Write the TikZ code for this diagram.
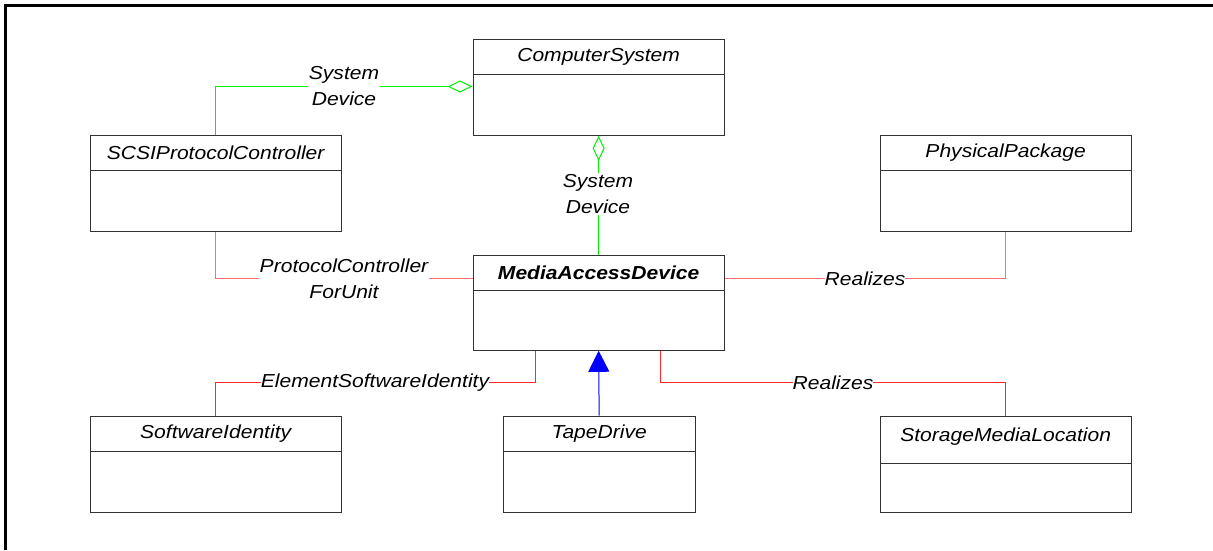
\documentclass[tikz,border=0pt]{standalone}
\usepackage{fontspec}
\setmainfont{Liberation Sans}[FakeStretch=1.12]
\usetikzlibrary{arrows.meta,calc}
\definecolor{umlgreen}{RGB}{0,240,0}
\definecolor{umlred}{RGB}{255,40,40}
\definecolor{umlpink}{RGB}{255,110,110}
\definecolor{umlblue}{RGB}{0,0,255}
\definecolor{boxline}{RGB}{50,50,50}
\begin{document}
\begin{tikzpicture}[x=1pt,y=-1pt,
  classbox/.style={draw=boxline,line width=1.3pt,inner sep=0pt,anchor=north west,fill=white},
  sepline/.style={draw=boxline,line width=1.3pt},
  title/.style={inner sep=0pt,font=\fontsize{18.8}{22}\selectfont\itshape},
  btitle/.style={inner sep=0pt,font=\fontsize{18.8}{22}\selectfont\bfseries\itshape},
  lab/.style={fill=white,inner xsep=1pt,inner ysep=1pt,align=center,font=\fontsize{18.8}{26}\selectfont\itshape},
  gassoc/.style={draw=umlgreen,line width=1pt},
  rassoc/.style={draw=umlred,line width=1pt},
  passoc/.style={draw=umlpink,line width=1pt},
  gen/.style={draw=umlblue,line width=1pt},
  agg/.style={-{Diamond[length=25pt,width=12pt,fill=white]}}
]
\useasboundingbox (0,0) rectangle (1213,550);
\draw[line width=2.4pt] (5.5,550) -- (5.5,5.5) -- (1213,5.5);

% classes
\node[classbox,minimum width=251pt,minimum height=96pt] (cs) at (472.5,38.5) {};
\node[classbox,minimum width=251pt,minimum height=96pt] (scsi) at (89.5,134.5) {};
\node[classbox,minimum width=251pt,minimum height=96pt] (pp) at (879.5,134.5) {};
\node[classbox,minimum width=251pt,minimum height=95pt] (mad) at (472.5,254.5) {};
\node[classbox,minimum width=251pt,minimum height=96pt] (sw) at (89.5,415.5) {};
\node[classbox,minimum width=192pt,minimum height=96pt] (tape) at (502.5,415.5) {};
\node[classbox,minimum width=251pt,minimum height=96pt] (sml) at (879.5,415.5) {};

\draw[sepline] (cs.west |- 0,74.5) -- (cs.east |- 0,74.5);
\draw[sepline] (scsi.west |- 0,170.5) -- (scsi.east |- 0,170.5);
\draw[sepline] (pp.west |- 0,170.5) -- (pp.east |- 0,170.5);
\draw[sepline] (mad.west |- 0,290.5) -- (mad.east |- 0,290.5);
\draw[sepline] (sw.west |- 0,451.5) -- (sw.east |- 0,451.5);
\draw[sepline] (tape.west |- 0,451.5) -- (tape.east |- 0,451.5);
\draw[sepline] (sml.west |- 0,463.5) -- (sml.east |- 0,463.5);

\node[title] (cs-t) at (cs.north |- 0,57) {ComputerSystem};
\node[title] (scsi-t) at (scsi.north |- 0,153) {SCSIProtocolController};
\node[title] (pp-t) at (pp.north |- 0,153) {PhysicalPackage};
\node[btitle] (mad-t) at (mad.north |- 0,273) {MediaAccessDevice};
\node[title] (sw-t) at (sw.north |- 0,434) {SoftwareIdentity};
\node[title] (tape-t) at (tape.north |- 0,434) {TapeDrive};
\node[title] (sml-t) at (sml.north |- 0,437) {StorageMediaLocation};

% label positions
\coordinate (sd1P) at (344,86.5);
\coordinate (sd2P) at (598,194);
\coordinate (pcP) at (344,278.5);
\coordinate (esiP) at (375,382.5);
\coordinate (rz1P) at (865,278.5);
\coordinate (rz2P) at (833,382.5);
\coordinate (madESI) at ($(mad.south west)+(63,0)$);
\coordinate (madRZ) at ($(mad.south west)+(188,0)$);

% connectors
\draw[gassoc,agg] (scsi.north) |- (cs.west |- sd1P);
\draw[gassoc,agg] (mad.north) -- (cs.south);
\draw[passoc] (scsi.south) |- (mad.west |- pcP);
\draw[rassoc] (madESI) |- (esiP) -| (sw.north);
\draw[passoc] (mad.east |- rz1P) -| (pp.south);
\draw[rassoc] (madRZ) |- (rz2P) -| (sml.north);
\draw[gen,-{Triangle[length=21pt,width=21pt]}] (tape.north) -- (mad.south);

% labels
\node[lab] (sd1) at (sd1P) {System\\Device};
\node[lab] (sd2) at (sd2P) {System\\Device};
\node[lab] (pc) at (pcP) {ProtocolController\\ForUnit};
\node[lab,inner ysep=0pt,inner xsep=0pt] (esi) at (esiP) {ElementSoftwareIdentity};
\node[lab,inner ysep=0pt,inner xsep=0pt] (rz1) at (rz1P) {Realizes};
\node[lab,inner ysep=0pt,inner xsep=0pt] (rz2) at (rz2P) {Realizes};
\end{tikzpicture}
\end{document}
